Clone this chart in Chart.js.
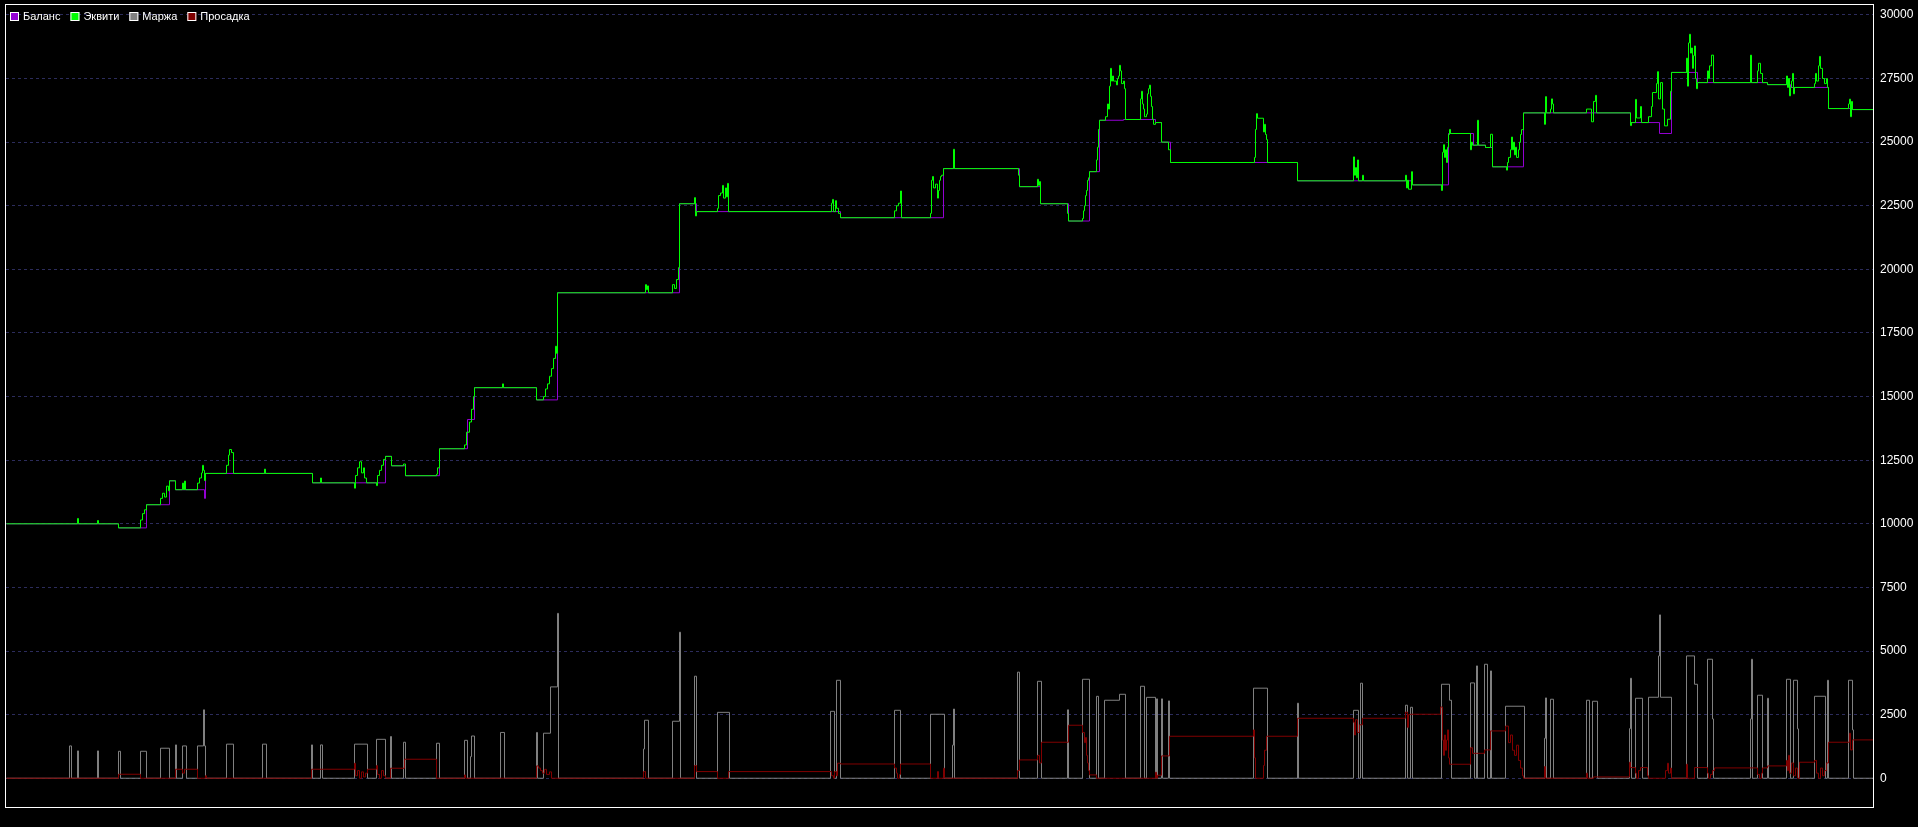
<!DOCTYPE html>
<html lang="ru">
<head>
<meta charset="utf-8">
<title>Баланс / Эквити</title>
<script src="https://cdn.jsdelivr.net/npm/chart.js@4.4.1/dist/chart.umd.min.js"></script>
<style>
    html, body { margin: 0; padding: 0; background: #000; }
    canvas { display: block; }
</style>
</head>
<body>
<canvas id="testerChart" width="1918" height="827"></canvas>
<script>
// Данные: [время, значение]
const balance = [
    [0, 10000], [112, 9840], [140, 10750], [163, 11690], [169, 11340], [198, 11000], [199, 11980],
    [306, 11610], [379, 12650], [385, 12280], [399, 11890], [433, 12950], [461, 14100], [468, 15350],
    [530, 14870], [551, 19080], [673, 22580], [690, 22270], [834, 22030], [937, 23960], [1013, 23250],
    [1034, 22580], [1062, 21900], [1083, 23840], [1093, 25860], [1117, 25890], [1149, 25770],
    [1155, 25000], [1164, 24200], [1291, 23480], [1406, 23320], [1442, 25340], [1467, 24880],
    [1479, 24790], [1486, 24030], [1517, 26150], [1624, 25770], [1653, 25340], [1665, 27740],
    [1691, 27340], [1761, 27260], [1784, 27150], [1822, 26320], [1846, 26280], [1867, 26280]
];

const equity = [
    [0, 10000], [71, 10210], [72, 10000], [91, 10130], [92, 10000], [112, 9840],
    [134, 10150], [136, 10400], [138, 10550], [140, 10750], [154, 11000], [156, 11200], [158, 11050],
    [160, 11480], [162, 11300], [163, 11690], [169, 11340], [176, 11600], [177, 11340], [178, 11680],
    [179, 11340], [191, 11600], [193, 11800], [195, 12000], [196, 12300], [197, 12100], [198, 11700],
    [199, 11980], [220, 12300], [222, 12700], [223, 12920], [225, 12800], [227, 11980], [258, 12150],
    [259, 11980], [306, 11610], [314, 11800], [315, 11610], [348, 11400], [349, 11900], [351, 12200],
    [353, 12440], [355, 12000], [357, 12200], [358, 11800], [360, 11610], [370, 11500], [371, 11900],
    [373, 12100], [375, 12300], [377, 12530], [379, 12650], [385, 12280], [397, 12350], [399, 11890],
    [430, 11950], [431, 12200], [433, 12950], [458, 13100], [460, 13600], [463, 14000], [465, 14500],
    [467, 15000], [468, 15350], [496, 15500], [497, 15350], [530, 14870], [537, 15000], [539, 15300],
    [541, 15500], [543, 15800], [545, 16100], [547, 16500], [549, 16980], [550, 16700], [551, 19080],
    [639, 19400], [640, 19200], [641, 19350], [642, 19080], [666, 19400], [668, 19250], [670, 19600],
    [672, 20070], [673, 22580], [688, 22820], [689, 22100], [690, 22270], [711, 22400], [712, 22900],
    [714, 23000], [716, 23300], [717, 22800], [719, 23200], [720, 22850], [721, 23380], [722, 22270],
    [825, 22600], [826, 22750], [827, 22270], [829, 22700], [830, 22400], [832, 22200], [834, 22030],
    [888, 22300], [890, 22500], [892, 22600], [894, 23080], [895, 22030], [924, 22200], [925, 23500],
    [926, 23650], [927, 23200], [929, 23350], [931, 22800], [932, 23100], [933, 23500], [934, 23650],
    [935, 23700], [937, 23960], [947, 24720], [948, 23960], [1012, 23700], [1013, 23250], [1031, 23540],
    [1032, 23300], [1033, 23450], [1034, 22580], [1061, 22200], [1062, 21900], [1076, 22000],
    [1077, 22300], [1078, 22500], [1079, 22900], [1080, 23100], [1081, 23500], [1082, 23600],
    [1083, 23840], [1090, 24300], [1091, 24800], [1092, 25500], [1093, 25860], [1099, 26000],
    [1101, 26500], [1102, 26300], [1103, 27200], [1104, 27900], [1105, 27400], [1106, 27600],
    [1107, 27400], [1110, 27250], [1111, 27500], [1112, 27600], [1113, 28020], [1114, 27800],
    [1115, 27300], [1117, 27400], [1118, 27100], [1119, 25890], [1134, 26700], [1135, 27000],
    [1136, 26500], [1137, 26300], [1138, 26000], [1140, 26100], [1141, 26900], [1142, 27100],
    [1143, 27240], [1144, 26800], [1145, 26400], [1146, 25900], [1147, 25700], [1149, 25770],
    [1155, 25000], [1162, 24700], [1164, 24200], [1248, 24400], [1249, 25500], [1250, 26120],
    [1251, 25940], [1257, 25400], [1258, 25700], [1259, 25300], [1260, 25100], [1261, 24200],
    [1291, 23480], [1347, 24420], [1348, 23700], [1349, 24000], [1350, 23600], [1351, 24300],
    [1352, 23480], [1356, 23700], [1357, 23480], [1399, 23700], [1400, 23200], [1401, 23500],
    [1402, 23150], [1405, 23840], [1406, 23320], [1435, 23100], [1436, 24600], [1437, 24900],
    [1438, 24400], [1439, 24700], [1440, 24200], [1441, 24800], [1442, 25300], [1443, 25500],
    [1444, 25340], [1464, 24700], [1465, 25000], [1466, 24880], [1471, 25860], [1472, 24880],
    [1479, 24790], [1484, 25310], [1486, 24030], [1500, 23900], [1501, 24200], [1502, 24400],
    [1504, 24700], [1505, 25200], [1506, 24700], [1507, 25000], [1508, 24500], [1509, 24800],
    [1510, 24400], [1512, 24700], [1513, 25000], [1514, 25300], [1515, 25490], [1517, 26150],
    [1538, 25700], [1539, 26790], [1540, 26150], [1544, 26300], [1545, 26700], [1546, 26500],
    [1547, 26150], [1580, 26300], [1585, 25800], [1587, 26600], [1589, 26840], [1590, 26150],
    [1624, 25650], [1625, 25770], [1629, 26680], [1630, 25950], [1634, 26400], [1635, 25770],
    [1642, 26000], [1645, 26400], [1646, 26950], [1650, 27300], [1651, 27770], [1652, 26700],
    [1654, 27340], [1656, 26300], [1658, 25640], [1661, 25900], [1664, 27000], [1665, 27740],
    [1680, 28300], [1681, 27200], [1682, 28900], [1683, 29240], [1684, 28500], [1685, 28700],
    [1686, 27900], [1687, 28400], [1688, 28780], [1689, 27500], [1690, 27100], [1691, 27340],
    [1701, 27800], [1702, 27500], [1703, 28000], [1705, 28420], [1707, 27340], [1744, 28420],
    [1745, 27340], [1751, 27800], [1752, 28100], [1754, 27700], [1756, 27340], [1761, 27260],
    [1780, 27600], [1781, 27150], [1782, 27500], [1783, 26820], [1784, 27150], [1785, 27400],
    [1786, 27700], [1787, 26900], [1788, 27150], [1808, 27300], [1809, 27700], [1810, 27400],
    [1812, 28000], [1813, 28370], [1814, 27900], [1816, 27500], [1818, 27300], [1820, 27500],
    [1821, 27150], [1822, 26320], [1842, 26500], [1843, 26690], [1844, 26000], [1845, 26600],
    [1846, 26280], [1867, 26280]
];

const margin = [
    [0, 0], [63, 1270], [65, 0], [71, 1075], [72, 0], [91, 1075], [92, 0], [112, 1060], [114, 0],
    [134, 1060], [140, 0], [154, 1180], [163, 0], [169, 1310], [170, 0], [176, 1270], [180, 0],
    [191, 1270], [197, 2690], [198, 1270], [199, 0], [220, 1340], [227, 0], [256, 1340], [260, 0],
    [305, 1310], [306, 0], [314, 1310], [316, 0], [348, 1340], [361, 0], [370, 1530], [379, 0],
    [384, 1640], [385, 0], [397, 1415], [399, 0], [430, 1375], [433, 0], [458, 1490], [461, 0],
    [464, 850], [465, 1660], [468, 0], [494, 1800], [498, 0], [530, 1800], [531, 0], [537, 1770],
    [544, 3590], [551, 6480], [552, 0], [637, 1150], [638, 2280], [642, 0], [666, 2240], [673, 5740],
    [674, 0], [688, 4010], [690, 0], [711, 2590], [723, 0], [824, 2630], [828, 0], [830, 3850],
    [834, 0], [888, 2670], [894, 0], [924, 2515], [938, 0], [946, 1300], [947, 2720], [948, 0],
    [1011, 4170], [1013, 0], [1031, 3810], [1035, 0], [1061, 2690], [1062, 0], [1076, 3890],
    [1083, 0], [1090, 3220], [1092, 0], [1098, 3065], [1113, 3300], [1119, 0], [1134, 3615],
    [1138, 0], [1140, 3180], [1149, 0], [1150, 3120], [1151, 0], [1155, 3120], [1156, 0],
    [1162, 3040], [1163, 0], [1247, 3540], [1261, 0], [1291, 2950], [1292, 0], [1347, 2670],
    [1352, 0], [1354, 3735], [1356, 0], [1399, 2870], [1401, 0], [1404, 2790], [1406, 0],
    [1435, 3694], [1443, 3065], [1445, 0], [1464, 3747], [1468, 0], [1470, 4415], [1471, 0],
    [1478, 4480], [1481, 0], [1484, 4218], [1485, 0], [1499, 2830], [1518, 0], [1538, 1570],
    [1539, 3157], [1540, 0], [1544, 3105], [1547, 0], [1580, 3065], [1583, 0], [1586, 3026],
    [1591, 0], [1623, 1950], [1624, 3930], [1625, 0], [1629, 3144], [1636, 0], [1642, 3183],
    [1652, 4808], [1653, 6420], [1654, 3183], [1665, 0], [1680, 4808], [1688, 3694], [1691, 0],
    [1701, 4677], [1706, 2330], [1707, 0], [1744, 2330], [1745, 4677], [1746, 0], [1751, 3262],
    [1756, 0], [1761, 3144], [1762, 0], [1780, 3890], [1784, 0], [1787, 3851], [1791, 1940],
    [1792, 0], [1808, 3222], [1819, 0], [1821, 3851], [1822, 0], [1842, 3851], [1846, 1900],
    [1847, 0], [1867, 0]
];

const drawdown = [
    [0, 0], [112, 157], [134, 0], [169, 354], [176, 200], [178, 354], [191, 0], [199, 100], [200, 0],
    [305, 354], [348, 590], [349, 100], [351, 300], [353, 0], [355, 250], [357, 50], [359, 200],
    [361, 354], [370, 500], [371, 150], [373, 0], [375, 300], [377, 100], [379, 0], [384, 393],
    [398, 747], [430, 0], [458, 130], [459, 0], [530, 485], [532, 400], [534, 300], [536, 200],
    [538, 350], [540, 150], [543, 250], [545, 0], [637, 262], [639, 0], [688, 500], [690, 262],
    [711, 0], [722, 262], [825, 100], [827, 0], [828, 262], [830, 100], [831, 590], [834, 560],
    [888, 400], [890, 200], [891, 0], [893, 150], [894, 560], [924, 0], [931, 262], [932, 0],
    [937, 393], [938, 0], [1011, 300], [1013, 720], [1031, 900], [1033, 600], [1035, 1415],
    [1062, 2083], [1076, 1800], [1078, 1400], [1079, 1600], [1080, 900], [1081, 600], [1082, 300],
    [1083, 131], [1090, 0], [1149, 236], [1150, 0], [1151, 118], [1155, 878], [1163, 1650],
    [1247, 1900], [1248, 800], [1249, 0], [1257, 500], [1258, 1100], [1260, 1650], [1291, 2358],
    [1347, 2200], [1348, 1700], [1349, 2300], [1351, 1800], [1353, 2100], [1356, 2358], [1399, 2600],
    [1401, 2000], [1402, 2500], [1404, 2515], [1434, 2800], [1436, 1500], [1437, 900], [1438, 1700],
    [1439, 1100], [1440, 1500], [1441, 1900], [1442, 800], [1443, 550], [1464, 1200], [1466, 980],
    [1478, 1113], [1484, 1860], [1499, 2050], [1502, 1400], [1504, 1700], [1506, 1100], [1508, 900],
    [1510, 1300], [1512, 700], [1514, 400], [1516, 100], [1517, 0], [1538, 460], [1539, 0],
    [1580, 200], [1581, 0], [1587, 52], [1623, 630], [1624, 419], [1629, 200], [1630, 0], [1632, 300],
    [1634, 419], [1641, 100], [1642, 0], [1659, 300], [1661, 590], [1662, 200], [1664, 400],
    [1665, 0], [1680, 550], [1681, 0], [1688, 419], [1701, 200], [1702, 0], [1704, 150], [1706, 300],
    [1708, 406], [1751, 150], [1753, 0], [1755, 200], [1756, 406], [1761, 485], [1780, 700],
    [1781, 300], [1782, 900], [1783, 200], [1785, 600], [1787, 100], [1789, 400], [1791, 0],
    [1793, 629], [1808, 700], [1810, 200], [1812, 0], [1814, 400], [1816, 100], [1818, 300],
    [1820, 600], [1822, 1415], [1843, 1770], [1844, 1113], [1846, 1507], [1867, 1507]
];

// Подписи оси Y
const yTicks = [0, 2500, 5000, 7500, 10000, 12500, 15000, 17500, 20000, 22500, 25000, 27500, 30000];

const FONT = '"Liberation Sans", Arial, sans-serif';

// Рамка вокруг области графика
const framePlugin = {
    id: 'frame',
    afterDraw(chart) {
        const { ctx, chartArea: a } = chart;
        ctx.save();
        ctx.strokeStyle = '#ffffff';
        ctx.lineWidth = 1;
        ctx.strokeRect(a.left - 0.5, a.top - 0.5, a.right - a.left + 1, a.bottom - a.top + 1);
        ctx.restore();
    }
};

// Легенда в одну строку внутри области графика
const inlineLegend = {
    id: 'inlineLegend',
    afterDraw(chart) {
        const { ctx, chartArea: a } = chart;
        ctx.save();
        ctx.font = '11px ' + FONT;
        ctx.textBaseline = 'middle';
        let x = a.left + 4;
        const y = a.top + 7;
        chart.data.datasets.forEach(ds => {
            ctx.fillStyle = ds.borderColor;
            ctx.fillRect(x, y, 9, 9);
            ctx.strokeStyle = '#ffffff';
            ctx.lineWidth = 1;
            ctx.strokeRect(x + 0.5, y + 0.5, 8, 8);
            ctx.fillStyle = '#ffffff';
            ctx.fillText(ds.label, x + 13, y + 5);
            x += 13 + ctx.measureText(ds.label).width + 10;
        });
        ctx.restore();
    }
};

function toPoints(series) {
    return series.map(([x, y]) => ({ x, y }));
}

function lineSet(label, series, color, order) {
    return {
        label: label,
        data: toPoints(series),
        borderColor: color,
        backgroundColor: color,
        borderWidth: 1,
        stepped: true,
        pointRadius: 0,
        fill: false,
        order: order
    };
}

Chart.defaults.font.family = FONT;
Chart.defaults.font.size = 11;

const ctx = document.getElementById('testerChart').getContext('2d');
new Chart(ctx, {
    type: 'line',
    data: {
        datasets: [
            lineSet('Баланс', balance, '#9400d3', 1),
            lineSet('Эквити', equity, '#00ff00', 0),
            lineSet('Маржа', margin, '#808080', 3),
            lineSet('Просадка', drawdown, '#800000', 2)
        ]
    },
    options: {
        responsive: false,
        animation: false,
        devicePixelRatio: 1,
        layout: { padding: { left: 6, top: 5, right: 0, bottom: 20 } },
        plugins: {
            tooltip: { enabled: false },
            legend: { display: false }
        },
        scales: {
            x: {
                type: 'linear',
                // полшага, чтобы вертикальные отрезки ложились ровно в пиксель
                min: -0.5,
                max: 1866.5,
                display: false
            },
            y: {
                position: 'right',
                min: -1130,
                max: 30390,
                afterBuildTicks: axis => { axis.ticks = yTicks.map(v => ({ value: v })); },
                afterFit: axis => {
                    axis.width = 45;
                    axis.paddingTop = 0;
                    axis.paddingBottom = 0;
                },
                grid: { color: '#2c2c5c', lineWidth: 1, drawTicks: false },
                border: { display: false, dash: [3, 3] },
                ticks: {
                    color: '#ffffff',
                    padding: 7,
                    font: { size: 12 },
                    callback: v => String(v)
                }
            }
        }
    },
    plugins: [framePlugin, inlineLegend]
});
</script>
</body>
</html>
